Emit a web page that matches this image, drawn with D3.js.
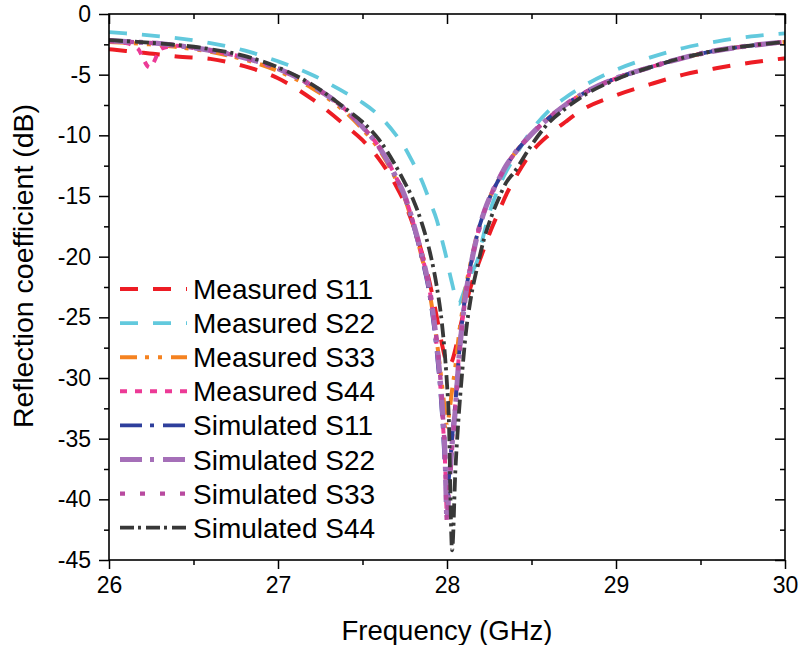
<!DOCTYPE html>
<html>
<head>
<meta charset="utf-8">
<script src="https://cdn.jsdelivr.net/npm/d3@7"></script>
<style>
  html, body { margin: 0; padding: 0; background: #fff; }
  svg { display: block; }
  text { font-family: "Liberation Sans", Arial, sans-serif; fill: #000; }
</style>
</head>
<body>
<svg id="chart" width="800" height="645"></svg>
<script>
// ---------------- data ----------------
const freq = [26.0, 26.1, 26.17, 26.24, 26.31, 26.4, 26.6, 26.8, 27.0, 27.2, 27.4, 27.5, 27.6, 27.7, 27.75, 27.8, 27.85, 27.9, 27.94, 27.97, 27.99, 28.0, 28.01, 28.03, 28.05, 28.07, 28.09, 28.11, 28.14, 28.18, 28.22, 28.26, 28.3, 28.35, 28.4, 28.5, 28.6, 28.7, 28.8, 29.0, 29.2, 29.4, 29.6, 29.8, 30.0];

const measuredS11 = [-2.9, -3.05, -3.15, -3.25, -3.35, -3.5, -3.7, -4.3, -5.3, -7.0, -9.2, -10.4, -12.0, -14.2, -15.6, -17.4, -19.6, -22.3, -25.0, -27.2, -28.4, -28.8, -29.0, -28.6, -27.6, -26.3, -25.1, -24.0, -22.5, -20.8, -19.3, -17.8, -16.5, -14.9, -13.6, -11.4, -10.0, -8.9, -7.9, -6.7, -5.8, -5.0, -4.45, -4.0, -3.65];
const measuredS22 = [-1.5, -1.6, -1.68, -1.76, -1.85, -1.98, -2.4, -3.0, -3.9, -5.0, -6.5, -7.3, -8.4, -10.0, -11.0, -12.3, -13.7, -15.5, -17.0, -18.6, -19.7, -20.3, -21.0, -22.2, -23.3, -23.9, -23.3, -22.5, -21.5, -20.3, -18.0, -16.0, -14.5, -13.0, -11.8, -9.6, -8.0, -6.9, -6.0, -4.6, -3.6, -2.8, -2.25, -1.85, -1.6];
const measuredS33 = [-2.3, -2.38, -2.43, -2.5, -2.57, -2.72, -3.12, -3.75, -4.7, -6.1, -8.1, -9.5, -11.2, -13.7, -15.2, -17.4, -20.0, -23.2, -27.0, -30.5, -33.0, -34.0, -33.2, -31.0, -29.0, -26.5, -24.5, -22.6, -20.5, -18.1, -16.3, -14.9, -13.8, -12.5, -11.5, -9.9, -8.6, -7.5, -6.6, -5.3, -4.4, -3.6, -3.0, -2.6, -2.3];
const measuredS44 = [-2.25, -2.4, -2.85, -4.4, -2.85, -2.62, -3.0, -3.6, -4.5, -5.9, -7.9, -9.3, -11.0, -13.5, -15.0, -17.2, -19.8, -23.0, -27.5, -32.5, -37.5, -41.4, -39.2, -35.2, -32.0, -28.2, -25.4, -23.1, -20.8, -18.2, -16.3, -14.9, -13.8, -12.5, -11.5, -9.9, -8.6, -7.5, -6.6, -5.3, -4.4, -3.6, -3.0, -2.6, -2.3];
const simulatedS11 = [-2.2, -2.28, -2.33, -2.38, -2.45, -2.6, -3.0, -3.6, -4.5, -5.9, -7.9, -9.3, -11.0, -13.6, -15.1, -17.4, -20.1, -23.5, -28.0, -33.0, -38.0, -40.3, -38.5, -35.0, -32.0, -28.3, -25.3, -23.0, -20.7, -18.1, -16.3, -14.9, -13.8, -12.5, -11.5, -9.9, -8.6, -7.5, -6.6, -5.3, -4.4, -3.6, -3.0, -2.6, -2.3];
const simulatedS22 = [-2.2, -2.28, -2.33, -2.38, -2.45, -2.6, -3.0, -3.6, -4.5, -5.9, -7.9, -9.3, -11.0, -13.5, -15.0, -17.2, -19.8, -23.0, -27.3, -32.0, -37.0, -41.7, -39.5, -35.5, -32.5, -28.5, -25.5, -23.2, -20.8, -18.2, -16.3, -14.9, -13.8, -12.5, -11.5, -9.9, -8.6, -7.5, -6.6, -5.3, -4.4, -3.6, -3.0, -2.6, -2.3];
const simulatedS33 = [-2.2, -2.28, -2.33, -2.38, -2.45, -2.6, -3.0, -3.6, -4.5, -5.9, -7.9, -9.3, -11.0, -13.5, -15.0, -17.2, -19.8, -23.0, -27.0, -31.8, -37.2, -41.9, -39.8, -35.8, -32.5, -28.6, -25.6, -23.2, -20.8, -18.2, -16.3, -14.9, -13.8, -12.5, -11.5, -9.9, -8.6, -7.5, -6.6, -5.3, -4.4, -3.6, -3.0, -2.6, -2.3];
const simulatedS44 = [-2.15, -2.24, -2.3, -2.37, -2.44, -2.55, -2.9, -3.45, -4.4, -5.8, -7.8, -8.9, -10.4, -12.6, -13.9, -15.3, -17.2, -19.7, -22.5, -25.5, -28.5, -30.5, -33.0, -44.2, -37.5, -33.0, -29.5, -26.5, -23.5, -20.8, -18.5, -16.8, -15.4, -13.9, -13.0, -10.8, -9.0, -7.8, -6.8, -5.4, -4.4, -3.6, -3.0, -2.6, -2.3];

const seriesNames = ["Measured S11", "Measured S22", "Measured S33", "Measured S44",
                     "Simulated S11", "Simulated S22", "Simulated S33", "Simulated S44"];
const seriesValues = [measuredS11, measuredS22, measuredS33, measuredS44,
                      simulatedS11, simulatedS22, simulatedS33, simulatedS44];

const xTicks = [26, 27, 28, 29, 30];
const yTicks = [0, -5, -10, -15, -20, -25, -30, -35, -40, -45];
const xTitle = "Frequency (GHz)";
const yTitle = "Reflection coefficient (dB)";

// ---------------- styles ----------------
const styles = [
  { color: "#ED1C24", width: 4,   dash: "18,15" },
  { color: "#62C9DD", width: 3.8, dash: "18,15" },
  { color: "#F58220", width: 4,   dash: "17,8,4,9,4,9" },
  { color: "#EC3A96", width: 4,   dash: "7,8" },
  { color: "#2E3F9C", width: 3.8, dash: "22,8,4,9" },
  { color: "#A56FB8", width: 5.2, dash: "22,8,4,9" },
  { color: "#B84A9F", width: 4.4, dash: "5,15" },
  { color: "#383838", width: 3.8, dash: "14,4,3,5" }
];

// ---------------- layout ----------------
const margin = { left: 109, right: 785, top: 14, bottom: 560 };
const svg = d3.select("#chart");

const x = d3.scaleLinear().domain([26, 30]).range([margin.left, margin.right]);
const y = d3.scaleLinear().domain([0, -45]).range([margin.top, margin.bottom]);

svg.append("defs").append("clipPath").attr("id", "clip")
  .append("rect")
  .attr("x", margin.left).attr("y", margin.top)
  .attr("width", margin.right - margin.left).attr("height", margin.bottom - margin.top);

// curves
const line = d3.line()
  .x((d, i) => x(freq[i]))
  .y(d => y(d))
  .curve(d3.curveMonotoneX);

const plot = svg.append("g").attr("clip-path", "url(#clip)");
seriesValues.forEach((vals, k) => {
  plot.append("path")
    .datum(vals)
    .attr("d", line)
    .attr("fill", "none")
    .attr("stroke", styles[k].color)
    .attr("stroke-width", styles[k].width)
    .attr("stroke-dasharray", styles[k].dash)
    .attr("stroke-linejoin", "round");
});

// axes
const fontTick = 23;
const xMinor = d3.range(26.5, 30, 1);
const yMinor = d3.range(-2.5, -45, -5);

function styleAxis(g) {
  g.select(".domain").remove();
  g.selectAll(".tick line").attr("stroke", "#000").attr("stroke-width", 1.5);
  g.selectAll("text").attr("font-size", fontTick)
    .attr("font-family", "'Liberation Sans', Arial, sans-serif").attr("fill", "#000");
}

// bottom
svg.append("g").attr("transform", `translate(0,${margin.bottom})`)
  .call(d3.axisBottom(x).tickValues(xTicks).tickFormat(d3.format("d")).tickSize(9).tickPadding(8))
  .call(styleAxis);
svg.append("g").attr("transform", `translate(0,${margin.bottom})`)
  .call(d3.axisBottom(x).tickValues(xMinor).tickFormat("").tickSize(5))
  .call(styleAxis);
// top (inward)
svg.append("g").attr("transform", `translate(0,${margin.top})`)
  .call(d3.axisBottom(x).tickValues(xTicks).tickFormat("").tickSize(10))
  .call(styleAxis);
svg.append("g").attr("transform", `translate(0,${margin.top})`)
  .call(d3.axisBottom(x).tickValues(xMinor).tickFormat("").tickSize(5))
  .call(styleAxis);
// left
svg.append("g").attr("transform", `translate(${margin.left},0)`)
  .call(d3.axisLeft(y).tickValues(yTicks).tickFormat(d => d3.format("d")(d).replace("−", "-")).tickSize(10).tickPadding(8))
  .call(styleAxis);
svg.append("g").attr("transform", `translate(${margin.left},0)`)
  .call(d3.axisLeft(y).tickValues(yMinor).tickFormat("").tickSize(5))
  .call(styleAxis);
// right (inward)
svg.append("g").attr("transform", `translate(${margin.right},0)`)
  .call(d3.axisLeft(y).tickValues(yTicks).tickFormat("").tickSize(10))
  .call(styleAxis);
svg.append("g").attr("transform", `translate(${margin.right},0)`)
  .call(d3.axisLeft(y).tickValues(yMinor).tickFormat("").tickSize(5))
  .call(styleAxis);

// frame
svg.append("rect")
  .attr("x", margin.left).attr("y", margin.top)
  .attr("width", margin.right - margin.left).attr("height", margin.bottom - margin.top)
  .attr("fill", "none").attr("stroke", "#000").attr("stroke-width", 1.6);

// titles
svg.append("text")
  .attr("x", (margin.left + margin.right) / 2).attr("y", 640)
  .attr("text-anchor", "middle").attr("font-size", 27.5)
  .text(xTitle);
svg.append("text")
  .attr("transform", `translate(33,266) rotate(-90)`)
  .attr("text-anchor", "middle").attr("font-size", 28.5)
  .text(yTitle);

// legend
const legend = svg.append("g");
const legX0 = 120, legX1 = 187, legY0 = 289, legDy = 34.1;
seriesNames.forEach((name, k) => {
  const yy = legY0 + k * legDy;
  legend.append("line")
    .attr("x1", legX0).attr("x2", legX1).attr("y1", yy).attr("y2", yy)
    .attr("stroke", styles[k].color)
    .attr("stroke-width", styles[k].width)
    .attr("stroke-dasharray", styles[k].dash);
  legend.append("text")
    .attr("x", 193).attr("y", yy + 10)
    .attr("font-size", 28)
    .text(name);
});
</script>
</body>
</html>
